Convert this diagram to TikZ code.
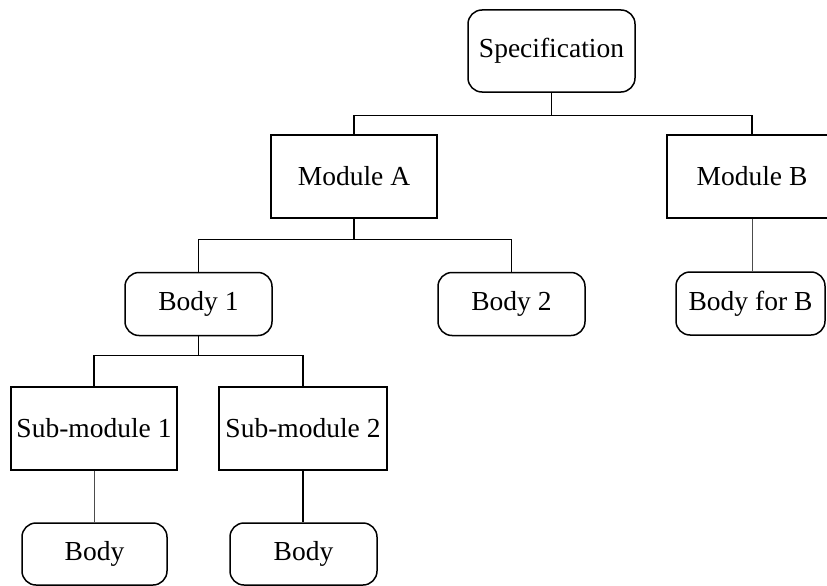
\documentclass[tikz,border=0pt]{standalone}
\usepackage{fontspec}
\setmainfont{Liberation Serif}
\begin{document}
\begin{tikzpicture}[x=1pt,y=-1pt,
  every node/.style={font=\fontsize{27.5}{32}\selectfont, inner sep=0pt},
  modbox/.style={draw, line width=1.3pt, minimum height=83pt},
  bodybox/.style={draw, line width=1.5pt, rounded corners=14pt, minimum height=63pt},
  link/.style={line width=1.3pt},
  thinlink/.style={line width=0.7pt, black!70}]
\useasboundingbox (0,0) rectangle (827,586);

% top level
\node[bodybox, minimum width=167pt, minimum height=82pt] (spec) at (551.5,51) {Specification};

% modules
\node[modbox, minimum width=166pt] (modA) at (354,176.5) {Module A};
\node[modbox, minimum width=170pt] (modB) at (752,176.5) {Module B};

% bodies
\node[bodybox, minimum width=147pt] (body1) at (198.5,304) {Body 1};
\node[bodybox, minimum width=147pt] (body2) at (511.5,304) {Body 2};
\node[bodybox, minimum width=149pt] (bodyB) at (750.5,303.5) {Body for B};

% sub-modules
\node[modbox, minimum width=166pt] (sub1) at (94,428.5) {Sub-module 1};
\node[modbox, minimum width=168pt] (sub2) at (303,428.5) {Sub-module 2};

% bodies of the sub-modules
\node[bodybox, minimum width=145pt, minimum height=62pt] (bodyL) at (94.5,554) {Body};
\node[bodybox, minimum width=147pt, minimum height=62pt] (bodyR) at (303.5,554) {Body};

% connectors
\draw[link] (spec.south) -- ++(0,23) -| (modA.north);
\draw[link] (spec.south) -- ++(0,23) -| (modB.north);
\draw[link] (modA.south) -- ++(0,21) -| (body1.north);
\draw[link] (modA.south) -- ++(0,21) -| (body2.north);
\draw[thinlink] (modB.south) -- (modB.south |- bodyB.north);
\draw[link] (body1.south) -- ++(0,19) -| (sub1.north);
\draw[link] (body1.south) -- ++(0,19) -| (sub2.north);
\draw[thinlink] (sub1.south) -- (bodyL.north -| sub1.south);
\draw[link] (sub2.south) -- (bodyR.north -| sub2.south);
\end{tikzpicture}
\end{document}
